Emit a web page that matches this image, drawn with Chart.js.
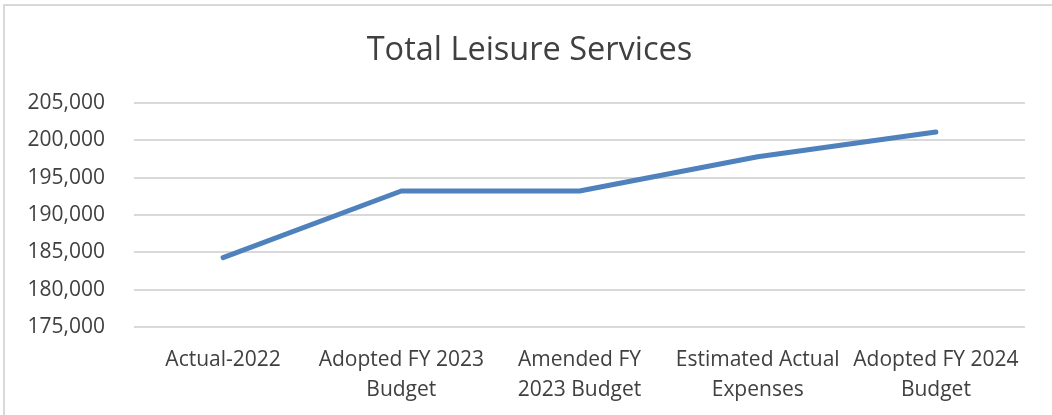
<!DOCTYPE html>
<html lang="en">
<head>
    <meta charset="UTF-8">
    <title>Total Leisure Services</title>
    <script src="https://cdn.jsdelivr.net/npm/chart.js"></script>
    <style>
        body {
            margin: 0;
            padding: 0;
            background-color: #ffffff;
            overflow: hidden;
        }

        .wrap {
            position: relative;
            width: 1052px;
            height: 415px;
        }

        /* light frame of the chart area, only top and left show in the shot */
        .frame {
            position: absolute;
            left: 3px;
            top: 4px;
            width: 1100px;
            height: 500px;
            border-top: 2px solid #d9d9d9;
            border-left: 2px solid #d9d9d9;
            pointer-events: none;
        }
    </style>
</head>
<body>

    <div class="wrap">
        <canvas id="leisureChart" width="1052" height="415"></canvas>
        <div class="frame"></div>
    </div>

    <script>
        // Chart data
        const categories = [
            'Actual-2022',
            ['Adopted FY 2023', 'Budget'],
            ['Amended FY', '2023 Budget'],
            ['Estimated Actual', 'Expenses'],
            ['Adopted FY 2024', 'Budget']
        ];
        const totals = [184280, 193210, 193210, 197800, 201120];

        // Value axis
        const yMin = 175000;
        const yMax = 205000;
        const yStep = 5000;

        const textColor = '#404040';
        const gridColor = '#d9d9d9';
        const fontFamily = '"Open Sans", Calibri, sans-serif';

        // the title sits a little right of the canvas middle in the original
        const titleShift = {
            id: 'titleShift',
            afterLayout(chart) {
                if (chart.titleBlock) {
                    chart.titleBlock.left += 34;
                }
            }
        };

        const ctx = document.getElementById('leisureChart').getContext('2d');
        const leisureChart = new Chart(ctx, {
            type: 'line',
            data: {
                labels: categories,
                datasets: [{
                    label: 'Total Leisure Services',
                    data: totals,
                    borderColor: '#4f81bd',
                    borderWidth: 5,
                    borderCapStyle: 'round',
                    borderJoinStyle: 'round',
                    pointRadius: 0,
                    tension: 0,
                    fill: false
                }]
            },
            options: {
                responsive: false,
                animation: false,
                devicePixelRatio: 1,
                layout: {
                    padding: { left: 0, right: 27, top: 0, bottom: 0 }
                },
                plugins: {
                    legend: { display: false },
                    tooltip: { enabled: false },
                    title: {
                        display: true,
                        text: 'Total Leisure Services',
                        color: textColor,
                        font: { family: fontFamily, size: 32.5, weight: 'normal', lineHeight: 1.2 },
                        padding: { top: 31, bottom: 33 }
                    }
                },
                scales: {
                    x: {
                        offset: true,
                        grid: { display: false },
                        border: { display: false },
                        ticks: {
                            color: textColor,
                            font: { family: fontFamily, size: 21, lineHeight: 1.43 },
                            padding: 10,
                            maxRotation: 0,
                            autoSkip: false
                        },
                        afterFit: function (scale) {
                            scale.height = 88;
                        }
                    },
                    y: {
                        min: yMin,
                        max: yMax,
                        grid: {
                            color: gridColor,
                            lineWidth: 2,
                            drawTicks: false
                        },
                        border: { display: false },
                        ticks: {
                            stepSize: yStep,
                            color: textColor,
                            font: { family: fontFamily, size: 21 },
                            padding: 29,
                            callback: function (value) {
                                return value.toLocaleString('en-US');
                            }
                        },
                        afterFit: function (scale) {
                            scale.width = 134;
                        }
                    }
                }
            },
            plugins: [titleShift]
        });
    </script>
</body>
</html>
